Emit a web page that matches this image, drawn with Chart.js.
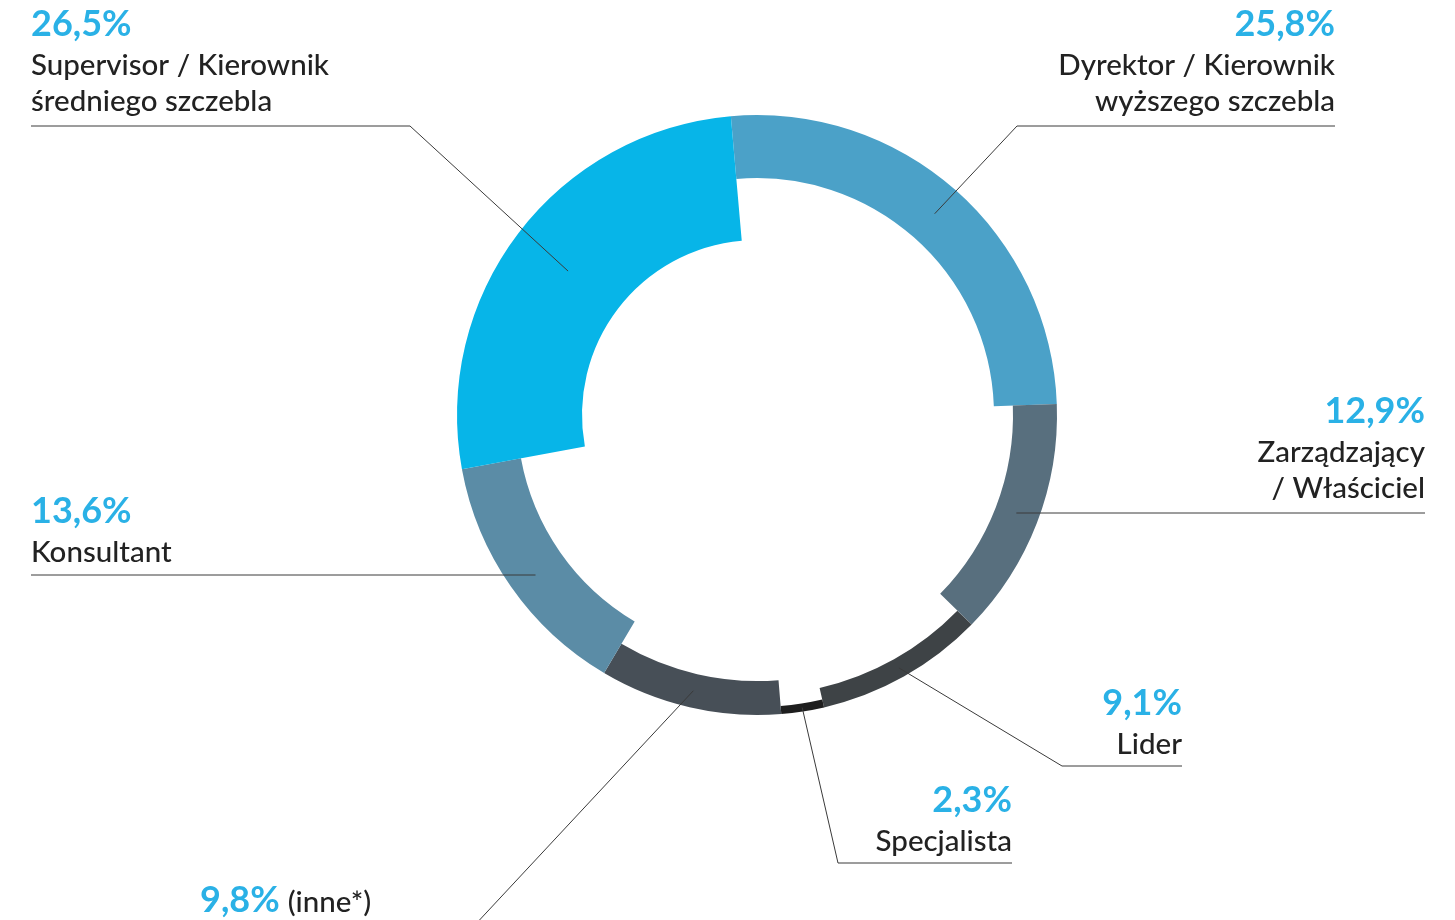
<!DOCTYPE html>
<html lang="pl">
<head>
    <meta charset="UTF-8">
    <title>Stanowisko</title>
    <script src="https://cdn.jsdelivr.net/npm/chart.js"></script>
    <style>
        body { margin: 0; background: #fff; }
        canvas { display: block; }
    </style>
</head>
<body>
    <canvas id="donut" width="1455" height="920"></canvas>

    <script>
        // dane
        const categories = [
            ['Dyrektor / Kierownik', 'wyższego szczebla'],
            ['Zarządzający', '/ Właściciel'],
            ['Lider'],
            ['Specjalista'],
            ['(inne*)'],
            ['Konsultant'],
            ['Supervisor / Kierownik', 'średniego szczebla']
        ];
        const values = [25.8, 12.9, 9.1, 2.3, 9.8, 13.6, 26.5];

        // styl
        const colors = ['#4ba1c8', '#586f7e', '#3e4346', '#1e1e1e', '#474f57', '#5b8ca6', '#07b5e8'];
        const thickness = [63, 44, 20, 8, 34, 60, 125];

        // pozycje etykiet (x tekstu, wyrównanie, linia bazowa %, y podkreślenia, załamanie linii)
        const labelPos = [
            { x: 1335, align: 'right', y: 36, lineY: 126, elbowX: 1017 },
            { x: 1425, align: 'right', y: 423, lineY: 513, elbowX: null },
            { x: 1182, align: 'right', y: 715, lineY: 766, elbowX: 1062 },
            { x: 1012, align: 'right', y: 812, lineY: 863, elbowX: 838 },
            { x: 200, align: 'left', y: 912, lineY: 927, elbowX: 473, inline: true },
            { x: 31, align: 'left', y: 523, lineY: 575, elbowX: null },
            { x: 31, align: 'left', y: 36, lineY: 126, elbowX: 410 }
        ];

        const pctFont = 'bold 36px Lato';
        const txtFont = '500 29.5px Lato';

        const ringThickness = {
            id: 'ringThickness',
            beforeDatasetsDraw(chart) {
                chart.getDatasetMeta(0).data.forEach((arc, i) => {
                    arc.innerRadius = arc.outerRadius - thickness[i];
                });
            }
        };

        const leaderLabels = {
            id: 'leaderLabels',
            afterDraw(chart) {
                const ctx = chart.ctx;
                const arcs = chart.getDatasetMeta(0).data;
                ctx.save();
                arcs.forEach((arc, i) => {
                    const p = labelPos[i];
                    const c = arc.getCenterPoint();

                    // linia odniesienia
                    ctx.strokeStyle = '#3a3a3a';
                    ctx.lineWidth = 1;
                    ctx.beginPath();
                    if (p.elbowX === null) {
                        ctx.moveTo(c.x, p.lineY);
                    } else {
                        ctx.moveTo(c.x, c.y);
                        ctx.lineTo(p.elbowX, p.lineY);
                    }
                    ctx.lineTo(p.x, p.lineY);
                    ctx.stroke();

                    const pct = values[i].toFixed(1).replace('.', ',') + '%';
                    ctx.textBaseline = 'alphabetic';

                    if (p.inline) {
                        ctx.textAlign = 'left';
                        ctx.font = pctFont;
                        ctx.fillStyle = '#2ab1e6';
                        ctx.fillText(pct, p.x, p.y);
                        const w = ctx.measureText(pct).width;
                        ctx.font = txtFont;
                        ctx.fillStyle = '#222';
                        ctx.fillText(categories[i][0], p.x + w + 8, p.y);
                        return;
                    }

                    ctx.textAlign = p.align;
                    ctx.font = pctFont;
                    ctx.fillStyle = '#2ab1e6';
                    ctx.fillText(pct, p.x, p.y);

                    ctx.font = txtFont;
                    ctx.fillStyle = '#222';
                    categories[i].forEach((line, k) => {
                        ctx.fillText(line, p.x, p.y + 39 + k * 36);
                    });
                });
                ctx.restore();
            }
        };

        new Chart(document.getElementById('donut'), {
            type: 'doughnut',
            data: {
                labels: categories.map(c => c.join(' ')),
                datasets: [{
                    data: values,
                    backgroundColor: colors,
                    borderWidth: 0
                }]
            },
            options: {
                responsive: false,
                animation: false,
                rotation: -5,
                cutout: '50%',
                layout: { padding: { left: 457, right: 398, top: 115, bottom: 205 } },
                plugins: {
                    legend: { display: false },
                    tooltip: { enabled: false }
                }
            },
            plugins: [ringThickness, leaderLabels]
        });
    </script>
</body>
</html>
